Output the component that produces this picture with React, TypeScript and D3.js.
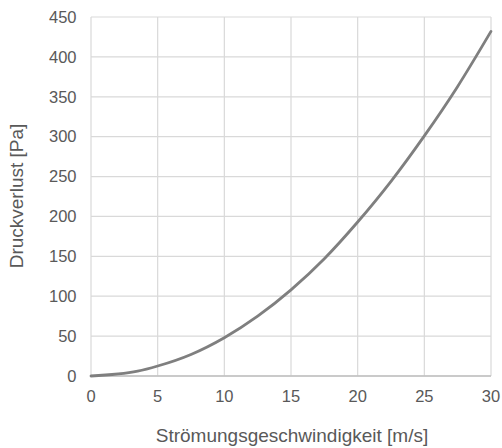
import React from "react";
import * as d3 from "d3";

const speed = [0, 3.5, 5, 7.5, 10, 12.5, 15, 17.5, 20, 22.5, 25, 27.5, 30];
const pressure = [0, 6, 12.5, 27, 48, 75, 108, 147, 193, 244, 301, 363, 432];
const xTicks = [0, 5, 10, 15, 20, 25, 30];
const yTicks = [0, 50, 100, 150, 200, 250, 300, 350, 400, 450];
const xTitle = "Strömungsgeschwindigkeit [m/s]";
const yTitle = "Druckverlust [Pa]";

export default function App() {
  const W = 502, H = 448;
  const left = 91, right = 491, top = 17, bottom = 376;
  const x = d3.scaleLinear().domain([0, 30]).range([left, right]);
  const y = d3.scaleLinear().domain([0, 450]).range([bottom, top]);
  const pts = speed.map((s, i) => [s, pressure[i]] as [number, number]);
  const line = d3.line<[number, number]>().x(d => x(d[0])).y(d => y(d[1])).curve(d3.curveMonotoneX);
  const font = "'Liberation Sans', Arial, sans-serif";
  return (
    <svg width={W} height={H} style={{ position: "absolute", left: 0, top: 0 }}>
      <rect width={W} height={H} fill="#fff" />
      {xTicks.map(t => (
        <line key={"gx" + t} x1={x(t)} x2={x(t)} y1={top} y2={bottom} stroke="#d9d9d9" strokeWidth={1.2} />
      ))}
      {yTicks.map(t => (
        <line key={"gy" + t} x1={left} x2={right} y1={y(t)} y2={y(t)} stroke="#d9d9d9" strokeWidth={1.2} />
      ))}
      <line x1={left} x2={right} y1={bottom} y2={bottom} stroke="#bfbfbf" strokeWidth={1.3} />
      <path d={line(pts) || ""} fill="none" stroke="#7f7f7f" strokeWidth={2.8} strokeLinecap="round" />
      {yTicks.map(t => (
        <text key={"ty" + t} x={76.5} y={y(t)} dy="0.35em" textAnchor="end" fontFamily={font} fontSize={16.5} fill="#595959">{t}</text>
      ))}
      {xTicks.map(t => (
        <text key={"tx" + t} x={x(t)} y={396} dy="0.35em" textAnchor="middle" fontFamily={font} fontSize={16.5} fill="#595959">{t}</text>
      ))}
      <text x={292} y={435} dy="0.35em" textAnchor="middle" fontFamily={font} fontSize={19} fill="#595959">{xTitle}</text>
      <text transform={`translate(16,196) rotate(-90)`} dy="0.35em" textAnchor="middle" fontFamily={font} fontSize={19} fill="#595959">{yTitle}</text>
    </svg>
  );
}
